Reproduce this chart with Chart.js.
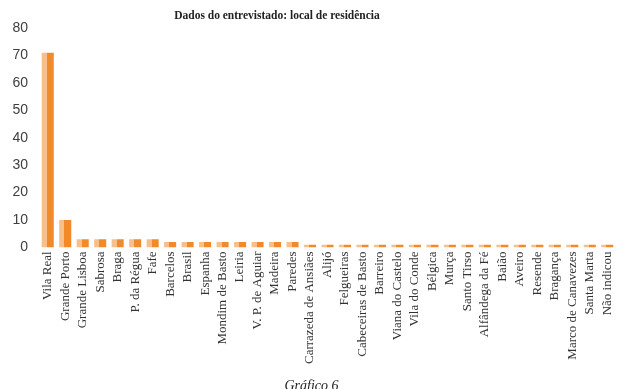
<!DOCTYPE html>
<html>
<head>
<meta charset="utf-8">
<script src="https://cdn.jsdelivr.net/npm/chart.js@4/dist/chart.umd.min.js"></script>
<style>
  body { margin: 0; background: #fff; }
  #wrap { position: relative; width: 627px; height: 389px; }
  #title { position: absolute; top: 9px; left: 0; width: 554px; text-align: center;
    font: bold 11.5px "Liberation Serif", serif; color: #222; }
  #caption { position: absolute; top: 378px; left: 0; width: 623px; text-align: center;
    font: italic 14px "Liberation Serif", serif; color: #222; }
</style>
</head>
<body>
<div id="wrap">
  <canvas id="chart" width="627" height="389"></canvas>
  <div id="title">Dados do entrevistado: local de residência</div>
  <div id="caption">Gráfico 6</div>
</div>
<script>
var places = ["Vila Real", "Grande Porto", "Grande Lisboa", "Sabrosa", "Braga", "P. da Régua", "Fafe",
  "Barcelos", "Brasil", "Espanha", "Mondim de Basto", "Leiria", "V. P. de Aguiar", "Madeira", "Paredes",
  "Carrazeda de Ansiães", "Alijó", "Felgueiras", "Cabeceiras de Basto", "Barreiro", "Viana do Castelo",
  "Vila do Conde", "Bélgica", "Murça", "Santo Tirso", "Alfândega da Fé", "Baião", "Aveiro", "Resende",
  "Bragança", "Marco de Canavezes", "Santa Marta", "Não indicou"];
var counts = [71, 10, 3, 3, 3, 3, 3,
  2, 2, 2, 2, 2, 2, 2, 2,
  1, 1, 1, 1, 1, 1,
  1, 1, 1, 1, 1, 1, 1, 1,
  1, 1, 1, 1];

var barPct = 0.69;

// light left half, darker right half, like the original bars
function barFill(ctx) {
    var chart = ctx.chart;
    var x = chart.scales.x;
    if (!x || ctx.dataIndex === undefined) return '#F08A2A';
    var cx = x.getPixelForValue(ctx.dataIndex);
    var w = (x.width / places.length) * barPct;
    if (!isFinite(cx) || !isFinite(w) || w <= 0) return '#F08A2A';
    var g = chart.ctx.createLinearGradient(cx - w / 2, 0, cx + w / 2, 0);
    g.addColorStop(0, '#F8BF8A');
    g.addColorStop(0.42, '#F8BF8A');
    g.addColorStop(0.42, '#F08A2A');
    g.addColorStop(1, '#F08A2A');
    return g;
}

new Chart(document.getElementById('chart').getContext('2d'), {
    type: 'bar',
    data: {
        labels: places,
        datasets: [{
            data: counts,
            backgroundColor: barFill,
            borderWidth: 0,
            categoryPercentage: barPct,
            barPercentage: 1
        }]
    },
    options: {
        responsive: false,
        animation: false,
        layout: { padding: { top: 28, right: 11, bottom: 21, left: 0 } },
        plugins: { legend: { display: false }, tooltip: { enabled: false } },
        scales: {
            x: {
                grid: { display: false, drawTicks: false },
                border: { display: false },
                afterFit: function (s) { s.paddingLeft = 0; s.paddingRight = 0; },
                ticks: {
                    autoSkip: false, maxRotation: 90, minRotation: 90, padding: 4,
                    color: '#333', font: { family: 'Liberation Serif', size: 13 }
                }
            },
            y: {
                min: 0, max: 80,
                grid: { display: false, drawTicks: false },
                border: { display: false },
                afterFit: function (s) { s.width = 39; },
                ticks: {
                    stepSize: 10, padding: 11,
                    color: '#404040', font: { family: 'Liberation Sans', size: 14 }
                }
            }
        }
    }
});
</script>
</body>
</html>
